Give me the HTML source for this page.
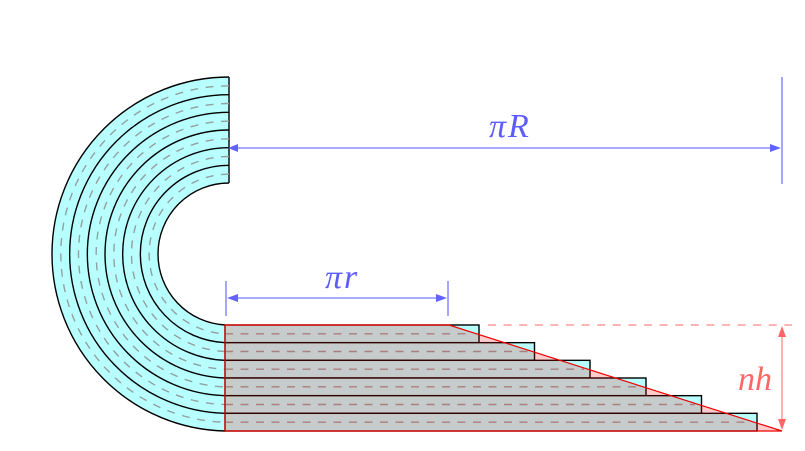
<!DOCTYPE html>
<html>
<head>
<meta charset="utf-8">
<style>
html,body{margin:0;padding:0;background:#fff;}
svg{display:block;}
text{font-family:"Liberation Serif",serif;font-style:italic;font-size:34px;}
</style>
</head>
<body>
<svg width="805" height="451" viewBox="0 0 805 451" xmlns="http://www.w3.org/2000/svg">
<!-- arcs -->
<path d="M229 77A177 177 0 0 0 52 254A177 177 0 0 0 225 431L225 325A71 71 0 0 1 158 254A71 71 0 0 1 229 183Z" fill="#b8ffff" stroke="none"/>
<g fill="none" stroke="#000" stroke-width="1.4">
<path d="M229 77A177 177 0 0 0 52 254A177 177 0 0 0 225 431"/>
<path d="M229 94.67A159.33 159.33 0 0 0 69.67 254A159.33 159.33 0 0 0 225 413.33"/>
<path d="M229 112.33A141.67 141.67 0 0 0 87.33 254A141.67 141.67 0 0 0 225 395.67"/>
<path d="M229 130A124 124 0 0 0 105 254A124 124 0 0 0 225 378"/>
<path d="M229 147.67A106.33 106.33 0 0 0 122.67 254A106.33 106.33 0 0 0 225 360.33"/>
<path d="M229 165.33A88.67 88.67 0 0 0 140.33 254A88.67 88.67 0 0 0 225 342.67"/>
<path d="M229 183A71 71 0 0 0 158 254A71 71 0 0 0 225 325"/>
<path d="M229 77V183"/>
</g>
<g fill="none" stroke="#949f9f" stroke-width="1.4" stroke-dasharray="8 7.5">
<path d="M229 85.83A168.17 168.17 0 0 0 60.83 254A168.17 168.17 0 0 0 225 422.17"/>
<path d="M229 103.5A150.5 150.5 0 0 0 78.5 254A150.5 150.5 0 0 0 225 404.5"/>
<path d="M229 121.17A132.83 132.83 0 0 0 96.17 254A132.83 132.83 0 0 0 225 386.83"/>
<path d="M229 138.83A115.17 115.17 0 0 0 113.83 254A115.17 115.17 0 0 0 225 369.17"/>
<path d="M229 156.5A97.5 97.5 0 0 0 131.5 254A97.5 97.5 0 0 0 225 351.5"/>
<path d="M229 174.17A79.83 79.83 0 0 0 149.17 254A79.83 79.83 0 0 0 225 333.83"/>
</g>
<!-- bars -->
<g fill="#b8ffff" stroke="#000" stroke-width="1.4">
<rect x="225" y="325" width="254" height="17.67"/>
<rect x="225" y="342.67" width="309.5" height="17.67"/>
<rect x="225" y="360.33" width="365" height="17.67"/>
<rect x="225" y="378" width="421" height="17.67"/>
<rect x="225" y="395.67" width="476.5" height="17.67"/>
<rect x="225" y="413.33" width="532" height="17.67"/>
</g>
<g fill="none" stroke="#949f9f" stroke-width="1.4" stroke-dasharray="8 7.5">
<path d="M225 333.83H472"/>
<path d="M225 351.5H528"/>
<path d="M225 369.17H584"/>
<path d="M225 386.83H640"/>
<path d="M225 404.5H695"/>
<path d="M225 422.17H751"/>
</g>
<!-- red overlay -->
<path d="M225 325H449L782 431H225Z" fill="#ff0000" fill-opacity="0.2" stroke="none"/>
<path d="M225 325H449L782 431H225Z" fill="none" stroke="#f00000" stroke-width="1.2"/>
<!-- pi R -->
<g stroke="#7070ff" stroke-width="1.3" fill="none" opacity="0.95">
<path d="M232 148H778"/>
<path d="M782 77V184"/>
<path d="M226 281V316"/>
<path d="M448 281V316"/>
<path d="M230 298H444"/>
</g>
<g fill="#6262ff" stroke="none">
<path d="M228 148L238 144V152Z"/>
<path d="M781 148L770 144V152Z"/>
<path d="M227 298L238 294V302Z"/>
<path d="M447 298L436 294V302Z"/>
</g>
<text x="489" y="137" fill="#5c5cff" letter-spacing="2">πR</text>
<text x="325" y="288" fill="#5c5cff" letter-spacing="2">πr</text>
<!-- nh -->
<path d="M488 325H792" fill="none" stroke="#ff8888" stroke-width="1.3" stroke-dasharray="8 7.6"/>
<path d="M782 330V426" fill="none" stroke="#ff8888" stroke-width="1.3"/>
<g fill="#ff6666" stroke="none">
<path d="M782 326L778 337H786Z"/>
<path d="M782 430L778 419H786Z"/>
</g>
<text x="738" y="390" fill="#ff6666">nh</text>
</svg>
</body>
</html>
